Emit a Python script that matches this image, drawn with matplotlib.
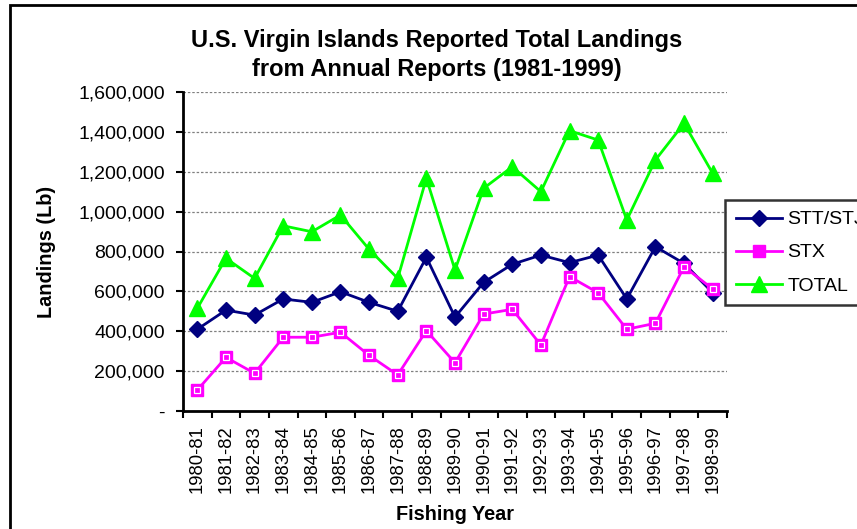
import numpy as np
import matplotlib
matplotlib.use('Agg')
import matplotlib.pyplot as plt
from matplotlib.patches import Rectangle
from matplotlib.ticker import FuncFormatter, FixedLocator

plt.rcParams['font.family'] = ['Liberation Sans', 'DejaVu Sans']

years = ['1980-81', '1981-82', '1982-83', '1983-84', '1984-85', '1985-86',
         '1986-87', '1987-88', '1988-89', '1989-90', '1990-91', '1991-92',
         '1992-93', '1993-94', '1994-95', '1995-96', '1996-97', '1997-98',
         '1998-99']
stt_stj = [410000, 506000, 481000, 562000, 545000, 598000, 545000, 500000,
           771000, 471000, 645000, 736000, 782000, 744000, 782000, 562000,
           824000, 740000, 593000]
stx = [105000, 269000, 189000, 370000, 370000, 395000, 279000, 181000,
       403000, 242000, 486000, 510000, 331000, 674000, 593000, 410000,
       440000, 724000, 612000]
total = [515000, 766000, 665000, 929000, 899000, 983000, 811000, 665000,
         1167000, 707000, 1117000, 1225000, 1100000, 1406000, 1359000, 958000,
         1259000, 1443000, 1192000]

fig = plt.figure(figsize=(8.57, 5.29), dpi=100)
ax = fig.add_axes([183/857, 1 - 411/529, (727 - 183)/857, (411 - 92)/529])

x = np.arange(len(years))
ax.plot(x, stt_stj, '-D', color='#000080', lw=2, ms=8,
        label='STT/STJ', zorder=4)
ax.plot(x, stx, '-s', color='#FF00FF', lw=2, ms=8, mfc='#FF00FF',
        mec='#FF00FF', label='STX', zorder=5)
ax.plot(x, stx, 's', ms=4.5, mfc='none', mec='white', mew=0.9, zorder=6)
ax.plot(x, total, '-^', color='#00FF00', lw=2, ms=11,
        label='TOTAL', zorder=3)

ax.set_xlim(-0.5, len(years) - 0.5)
ax.set_ylim(0, 1600000)
ax.set_yticks(np.arange(0, 1600001, 200000))
ax.yaxis.set_major_formatter(FuncFormatter(
    lambda v, p: '-' if v == 0 else f'{int(v):,}'))
ax.set_xticks(x)
ax.set_xticklabels(years, rotation=90, fontsize=13.3)
ax.xaxis.set_minor_locator(FixedLocator(np.arange(-0.5, len(years), 1.0)))
ax.tick_params(axis='x', which='major', length=0, pad=10)
ax.tick_params(axis='x', which='minor', length=5, width=1.5, direction='out')
ax.tick_params(axis='y', length=5, width=1.5, direction='out',
               labelsize=14, pad=8)

ax.grid(True, axis='y', color='#808080', ls=(0, (2, 1.5)), lw=0.9)
ax.set_axisbelow(True)
for s in ['top', 'right']:
    ax.spines[s].set_visible(False)
for s in ['left', 'bottom']:
    ax.spines[s].set_linewidth(2)

ax.set_ylabel('Landings (Lb)', fontsize=14.3, fontweight='bold', labelpad=16)
ax.set_xlabel('Fishing Year', fontsize=14.3, fontweight='bold', labelpad=9)

fig.text(437/857, 1 - 55/529,
         'U.S. Virgin Islands Reported Total Landings\nfrom Annual Reports (1981-1999)',
         ha='center', va='center', fontsize=17, fontweight='bold',
         linespacing=1.35)

leg = fig.legend(loc='upper left', bbox_to_anchor=(725/857, 1 - 200/529),
                 borderaxespad=0, fontsize=14, frameon=True, fancybox=False,
                 edgecolor='black', borderpad=0.55, handlelength=2.4,
                 labelspacing=0.8, handletextpad=0.25)
leg.get_frame().set_linewidth(1.8)

fig.patches.append(Rectangle((10/857, -0.1), 1.2, 1 - 5/529 + 0.1,
                             transform=fig.transFigure, fill=False,
                             edgecolor='black', lw=2))

fig.savefig('out.png', dpi=100)
